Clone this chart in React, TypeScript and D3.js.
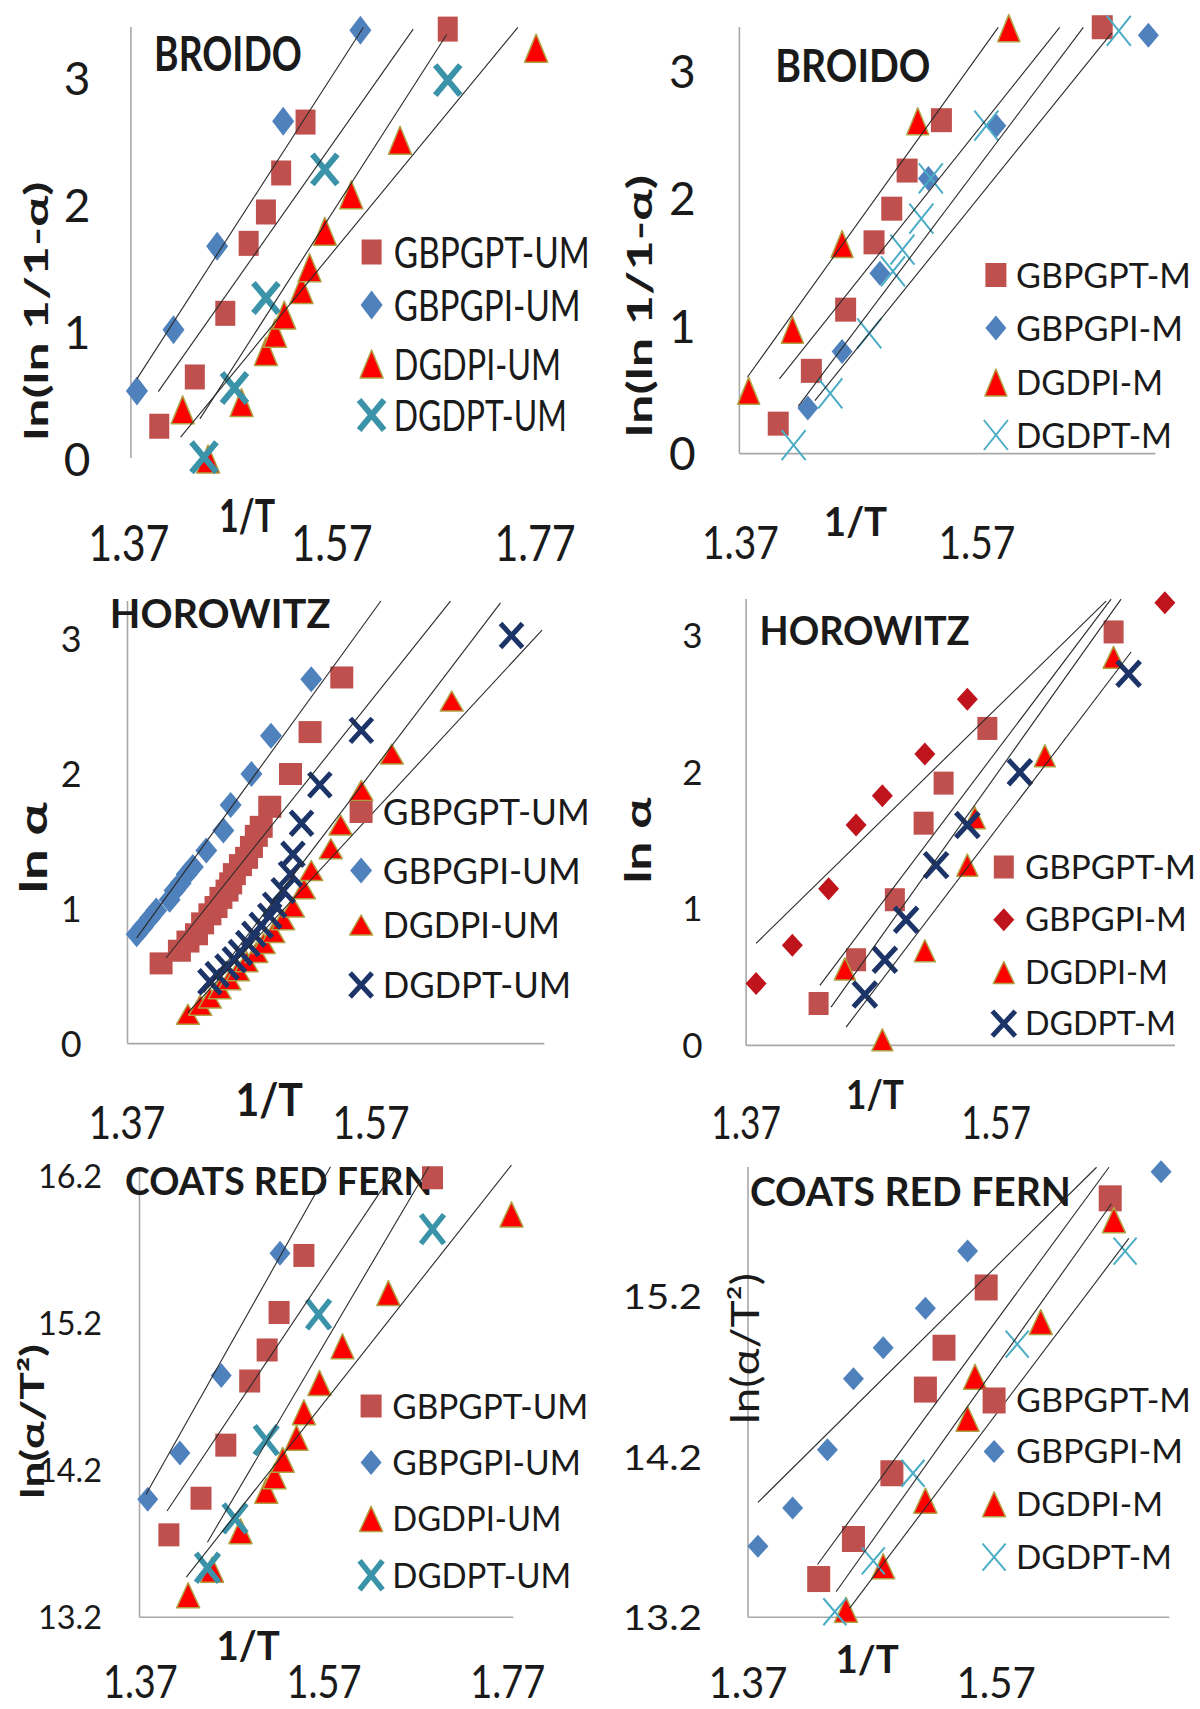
import React from 'react';
import * as d3 from 'd3';

type Pt = [number, number];

// ---------- tick labels & texts ----------
const xTicksWide = [1.37, 1.57, 1.77];
const xTicksNarrow = [1.37, 1.57];
const yTicksAlpha = [0, 1, 2, 3];
const yTicksCoatsUM = [13.2, 14.2, 15.2, 16.2];
const yTicksCoatsM = [13.2, 14.2, 15.2];

const panelTitles = ['BROIDO', 'BROIDO', 'HOROWITZ', 'HOROWITZ', 'COATS RED FERN', 'COATS RED FERN'];
const yAxisTitles = ['ln(ln 1/1-α)', 'ln(ln 1/1-α)', 'ln α', 'ln α', 'ln(α/T²)', 'ln(α/T²)'];
const xAxisTitle = '1/T';
const legendUM = ['GBPGPT-UM', 'GBPGPI-UM', 'DGDPI-UM', 'DGDPT-UM'];
const legendM = ['GBPGPT-M', 'GBPGPI-M', 'DGDPI-M', 'DGDPT-M'];

// ---------- BROIDO, UM ----------
const broidoUM_GBPGPT: Pt[] = [[1.400, 0.258], [1.435, 0.646], [1.465, 1.147], [1.488, 1.698], [1.505, 1.945], [1.520, 2.252], [1.544, 2.653], [1.684, 3.385]];
const broidoUM_GBPGPI: Pt[] = [[1.378, 0.536], [1.414, 1.018], [1.457, 1.675], [1.522, 2.659], [1.598, 3.376]];
const broidoUM_DGDPI: Pt[] = [[1.423, 0.387], [1.448, 0.0], [1.481, 0.444], [1.505, 0.846], [1.514, 0.990], [1.523, 1.133], [1.540, 1.334], [1.548, 1.506], [1.563, 1.793], [1.589, 2.080], [1.637, 2.510], [1.771, 3.235]];
const broidoUM_DGDPT: Pt[] = [[1.444, 0.014], [1.474, 0.559], [1.505, 1.268], [1.563, 2.280], [1.684, 2.983]];
const broidoUM_fits: Pt[][] = [[[1.378, 0.631], [1.601, 3.399]], [[1.399, 0.531], [1.650, 3.385]], [[1.440, 0.316], [1.683, 3.342]], [[1.421, 0.172], [1.753, 3.399]]];

// ---------- BROIDO, M ----------
const broidoM_GBPGPT: Pt[] = [[1.402, 0.235], [1.430, 0.649], [1.459, 1.129], [1.483, 1.657], [1.498, 1.921], [1.511, 2.220], [1.540, 2.615], [1.676, 3.344]];
const broidoM_GBPGPI: Pt[] = [[1.427, 0.358], [1.456, 0.800], [1.488, 1.415], [1.529, 2.158], [1.586, 2.572], [1.715, 3.281]];
const broidoM_DGDPI: Pt[] = [[1.377, 0.492], [1.414, 0.972], [1.456, 1.643], [1.520, 2.606], [1.597, 3.337]];
const broidoM_DGDPT: Pt[] = [[1.415, 0.066], [1.446, 0.472], [1.479, 0.943], [1.499, 1.429], [1.507, 1.600], [1.523, 1.843], [1.531, 2.158], [1.578, 2.572], [1.690, 3.315]];
const broidoM_fits: Pt[][] = [[[1.376, 0.601], [1.588, 3.343]], [[1.403, 0.586], [1.640, 3.343]], [[1.419, 0.372], [1.660, 3.343]], [[1.433, 0.415], [1.684, 3.300]]];

// ---------- HOROWITZ, UM ----------
const horoUM_GBPGPT: Pt[] = [[1.398, 0.595], [1.413, 0.689], [1.420, 0.757], [1.427, 0.811], [1.432, 0.892], [1.438, 0.959], [1.443, 1.013], [1.447, 1.081], [1.452, 1.135], [1.455, 1.189], [1.458, 1.257], [1.463, 1.324], [1.468, 1.378], [1.472, 1.459], [1.476, 1.541], [1.480, 1.608], [1.487, 1.757], [1.504, 2.000], [1.520, 2.311], [1.546, 2.716]];
const horoUM_GBPGPI: Pt[] = [[1.378, 0.811], [1.383, 0.865], [1.389, 0.932], [1.394, 0.987], [1.405, 1.068], [1.409, 1.135], [1.414, 1.189], [1.419, 1.257], [1.424, 1.311], [1.435, 1.432], [1.449, 1.581], [1.455, 1.770], [1.472, 2.000], [1.488, 2.283], [1.521, 2.703]];
const horoUM_DGDPI: Pt[] = [[1.420, 0.217], [1.430, 0.284], [1.438, 0.338], [1.446, 0.406], [1.454, 0.473], [1.461, 0.541], [1.468, 0.608], [1.476, 0.676], [1.482, 0.743], [1.490, 0.824], [1.498, 0.919], [1.506, 1.013], [1.515, 1.148], [1.521, 1.284], [1.537, 1.446], [1.545, 1.622], [1.562, 1.878], [1.587, 2.148], [1.636, 2.541]];
const horoUM_DGDPT: Pt[] = [[1.438, 0.459], [1.444, 0.513], [1.452, 0.568], [1.458, 0.622], [1.463, 0.676], [1.469, 0.743], [1.474, 0.811], [1.480, 0.878], [1.487, 0.946], [1.491, 1.027], [1.498, 1.135], [1.504, 1.257], [1.506, 1.405], [1.513, 1.635], [1.528, 1.919], [1.562, 2.324], [1.685, 3.027]];
const horoUM_fits: Pt[][] = [[[1.378, 0.784], [1.578, 3.283]], [[1.402, 0.635], [1.635, 3.283]], [[1.433, 0.378], [1.676, 3.270]], [[1.420, 0.230], [1.710, 3.067]]];

// ---------- HOROWITZ, M ----------
const horoM_GBPGPT: Pt[] = [[1.428, 0.311], [1.458, 0.631], [1.489, 1.070], [1.512, 1.630], [1.528, 1.923], [1.563, 2.323], [1.664, 3.029]];
const horoM_GBPGPI: Pt[] = [[1.378, 0.457], [1.407, 0.737], [1.436, 1.150], [1.458, 1.617], [1.479, 1.830], [1.513, 2.136], [1.547, 2.536], [1.705, 3.242]];
const horoM_DGDPI: Pt[] = [[1.449, 0.564], [1.479, 0.045], [1.513, 0.697], [1.547, 1.323], [1.553, 1.670], [1.609, 2.123], [1.664, 2.843]];
const horoM_DGDPT: Pt[] = [[1.465, 0.377], [1.481, 0.631], [1.498, 0.924], [1.522, 1.323], [1.547, 1.617], [1.589, 2.003], [1.676, 2.723]];
const horoM_fits: Pt[][] = [[[1.378, 0.751], [1.658, 3.255]], [[1.429, 0.444], [1.662, 3.269]], [[1.438, 0.284], [1.670, 3.269]], [[1.450, 0.138], [1.678, 2.882]]];

// ---------- COATS RED FERN, UM ----------
const coatsUM_GBPGPT: Pt[] = [[1.401, 13.760], [1.436, 14.009], [1.463, 14.370], [1.489, 14.806], [1.508, 15.017], [1.521, 15.272], [1.548, 15.660], [1.688, 16.188]];
const coatsUM_GBPGPI: Pt[] = [[1.378, 14.002], [1.413, 14.316], [1.458, 14.843], [1.522, 15.675]];
const coatsUM_DGDPI: Pt[] = [[1.422, 13.349], [1.448, 13.523], [1.479, 13.785], [1.507, 14.059], [1.516, 14.158], [1.525, 14.270], [1.540, 14.420], [1.548, 14.594], [1.565, 14.793], [1.590, 15.042], [1.640, 15.404], [1.774, 15.939]];
const coatsUM_DGDPT: Pt[] = [[1.443, 13.536], [1.473, 13.872], [1.507, 14.404], [1.564, 15.259], [1.688, 15.839]];
const coatsUM_fits: Pt[][] = [[[1.376, 14.034], [1.577, 16.263]], [[1.399, 13.922], [1.648, 16.250]], [[1.443, 13.710], [1.684, 16.263]], [[1.420, 13.473], [1.774, 16.275]]];

// ---------- COATS RED FERN, M ----------
const coatsM_GBPGPT: Pt[] = [[1.427, 13.438], [1.455, 13.688], [1.486, 14.098], [1.513, 14.620], [1.528, 14.881], [1.562, 15.257], [1.662, 15.813]];
const coatsM_GBPGPI: Pt[] = [[1.378, 13.643], [1.406, 13.882], [1.434, 14.245], [1.455, 14.688], [1.479, 14.881], [1.513, 15.127], [1.547, 15.484], [1.703, 15.979]];
const coatsM_DGDPI: Pt[] = [[1.449, 13.246], [1.479, 13.518], [1.513, 13.927], [1.547, 14.438], [1.553, 14.700], [1.606, 15.041], [1.665, 15.677]];
const coatsM_DGDPT: Pt[] = [[1.440, 13.234], [1.471, 13.552], [1.503, 14.098], [1.587, 14.904], [1.674, 15.484]];
const coatsM_fits: Pt[][] = [[[1.378, 13.916], [1.651, 16.007]], [[1.426, 13.529], [1.661, 16.007]], [[1.441, 13.359], [1.663, 15.779]], [[1.452, 13.257], [1.677, 15.563]]];

// ---------- styles ----------
const C_SQ = '#C0504D';
const C_DIA = '#4F81BD';
const C_DIA_DARK = '#C0141C';
const C_TRI = '#FF0000';
const C_TRI_EDGE = '#B0A040';
const C_TEAL = '#3A93A8';
const C_TEAL_THIN = '#4BACC6';
const C_NAVY = '#1C3468';
const AXIS = '#A8A8A8';
const FIT = '#2a2a2a';
const TEXT = '#1a1a1a';
const FONT = 'Lato, "Open Sans", "Liberation Sans", sans-serif';

type Kind = 'square' | 'diamond' | 'triangle' | 'x';
interface MSize { sq: [number, number]; dia: [number, number]; tri: [number, number]; x: [number, number, number]; }

interface Panel {
  series: Pt[][]; fits: Pt[][]; colors: string[]; legend: string[]; title: string; yTitle: string;
  xDomain: [number, number]; xRange: [number, number]; yDomain: [number, number]; yRange: [number, number];
  xTicks: number[]; yTicks: number[]; yFmt: (n: number) => string;
  yAxis: { x: number; y0: number; y1: number }; xAxis: { x0: number; x1: number; y: number } | null;
  yTick: { x: number; anchor: string; size: number; cap: number; w?: number };
  xTick: { base: number; size: number; w: number };
  titleBox: { x: number; base: number; size: number; w: number };
  xTitle: { x: number; base: number; size: number; w: number };
  yTitleBox: { cx: number; cy: number; size: number; len: number; bold: boolean };
  leg: { mx: number; tx: number; rows: number[]; size: number; cap: number; widths: number[] };
  ms: MSize;
}

const kinds: Kind[] = ['square', 'diamond', 'triangle', 'x'];
const fmtInt = d3.format('d');
const fmt1 = d3.format('.1f');

const panels: Panel[] = [
  {
    series: [broidoUM_GBPGPT, broidoUM_GBPGPI, broidoUM_DGDPI, broidoUM_DGDPT], fits: broidoUM_fits,
    colors: [C_SQ, C_DIA, C_TRI, C_TEAL], legend: legendUM, title: panelTitles[0], yTitle: yAxisTitles[0],
    xDomain: [1.37, 1.77], xRange: [128.8, 535.1], yDomain: [0, 3], yRange: [459, 78],
    xTicks: xTicksWide, yTicks: yTicksAlpha, yFmt: fmtInt,
    yAxis: { x: 130.9, y0: 27, y1: 458 }, xAxis: null,
    yTick: { x: 77.1, anchor: 'middle', size: 46, cap: 33 },
    xTick: { base: 561, size: 50, w: 81.3 },
    titleBox: { x: 154.1, base: 71, size: 48, w: 147.8 },
    xTitle: { x: 247.1, base: 531.5, size: 46, w: 56 },
    yTitleBox: { cx: 37, cy: 311, size: 32, len: 259, bold: true },
    leg: { mx: 371.6, tx: 393.8, rows: [252, 305, 364, 415], size: 43, cap: 31, widths: [196, 186.9, 167.3, 173.1] },
    ms: { sq: [20, 25], dia: [22, 29], tri: [23, 28], x: [25, 30, 6] },
  },
  {
    series: [broidoM_GBPGPT, broidoM_GBPGPI, broidoM_DGDPI, broidoM_DGDPT], fits: broidoM_fits,
    colors: [C_SQ, C_DIA, C_TRI, C_TEAL_THIN], legend: legendM, title: panelTitles[1], yTitle: yAxisTitles[1],
    xDomain: [1.37, 1.57], xRange: [740.4, 976.9], yDomain: [0, 3], yRange: [453.6, 71.1],
    xTicks: xTicksNarrow, yTicks: yTicksAlpha, yFmt: fmtInt,
    yAxis: { x: 739.4, y0: 27, y1: 453.6 }, xAxis: { x0: 739.4, x1: 1155.4, y: 453.6 },
    yTick: { x: 682.3, anchor: 'middle', size: 46, cap: 33 },
    xTick: { base: 559, size: 47, w: 77 },
    titleBox: { x: 775.3, base: 82, size: 46, w: 155.2 },
    xTitle: { x: 855.5, base: 535.5, size: 40, w: 63.3 },
    yTitleBox: { cx: 641.2, cy: 306, size: 34, len: 262, bold: true },
    leg: { mx: 995.9, tx: 1016, rows: [275, 328, 382.5, 435], size: 34, cap: 25, widths: [175, 167, 147, 156] },
    ms: { sq: [21, 24], dia: [21, 25], tri: [22, 27], x: [24, 30, 2] },
  },
  {
    series: [horoUM_GBPGPT, horoUM_GBPGPI, horoUM_DGDPI, horoUM_DGDPT], fits: horoUM_fits,
    colors: [C_SQ, C_DIA, C_TRI, C_NAVY], legend: legendUM, title: panelTitles[2], yTitle: yAxisTitles[2],
    xDomain: [1.37, 1.57], xRange: [126.9, 371.1], yDomain: [0, 3], yRange: [1043.6, 639.2],
    xTicks: xTicksNarrow, yTicks: yTicksAlpha, yFmt: fmtInt,
    yAxis: { x: 127.5, y0: 601, y1: 1043.6 }, xAxis: { x0: 127.5, x1: 544.3, y: 1043.6 },
    yTick: { x: 71.2, anchor: 'middle', size: 36, cap: 26 },
    xTick: { base: 1139, size: 46, w: 77 },
    titleBox: { x: 109.8, base: 628, size: 40, w: 220.7 },
    xTitle: { x: 269.2, base: 1116.4, size: 46, w: 67.6 },
    yTitleBox: { cx: 34.8, cy: 848, size: 38, len: 91, bold: true },
    leg: { mx: 361.1, tx: 382.7, rows: [812, 870.5, 925, 985], size: 37, cap: 26.5, widths: [207, 198, 177, 188.5] },
    ms: { sq: [23, 22], dia: [22, 26], tri: [23, 20], x: [22, 24, 5] },
  },
  {
    series: [horoM_GBPGPT, horoM_GBPGPI, horoM_DGDPI, horoM_DGDPT], fits: horoM_fits,
    colors: [C_SQ, C_DIA_DARK, C_TRI, C_NAVY], legend: legendM, title: panelTitles[3], yTitle: yAxisTitles[3],
    xDomain: [1.37, 1.57], xRange: [746.1, 996.1], yDomain: [0, 3], yRange: [1046, 635.9],
    xTicks: xTicksNarrow, yTicks: yTicksAlpha, yFmt: fmtInt,
    yAxis: { x: 746.1, y0: 599, y1: 1045.4 }, xAxis: { x0: 746.1, x1: 1175, y: 1045.4 },
    yTick: { x: 692.3, anchor: 'middle', size: 35, cap: 24 },
    xTick: { base: 1139, size: 46, w: 69.7 },
    titleBox: { x: 759.5, base: 645, size: 40, w: 210.1 },
    xTitle: { x: 875, base: 1109, size: 40, w: 58 },
    yTitleBox: { cx: 639.6, cy: 840.5, size: 36, len: 86, bold: true },
    leg: { mx: 1003.8, tx: 1024.9, rows: [867, 919.7, 972.5, 1023.6], size: 33, cap: 23.5, widths: [171, 162, 143, 151] },
    ms: { sq: [20, 23], dia: [21, 23], tri: [21, 22], x: [23, 25, 5] },
  },
  {
    series: [coatsUM_GBPGPT, coatsUM_GBPGPI, coatsUM_DGDPI, coatsUM_DGDPT], fits: coatsUM_fits,
    colors: [C_SQ, C_DIA, C_TRI, C_TEAL], legend: legendUM, title: panelTitles[4], yTitle: yAxisTitles[4],
    xDomain: [1.37, 1.77], xRange: [140.4, 507.8], yDomain: [13.2, 16.2], yRange: [1617.2, 1176],
    xTicks: xTicksWide, yTicks: yTicksCoatsUM, yFmt: fmt1,
    yAxis: { x: 139.5, y0: 1171, y1: 1617.2 }, xAxis: { x0: 139.5, x1: 513.4, y: 1617.2 },
    yTick: { x: 102, anchor: 'end', size: 33, cap: 23.5, w: 64 },
    xTick: { base: 1698, size: 46, w: 75 },
    titleBox: { x: 125, base: 1194.6, size: 38, w: 307.2 },
    xTitle: { x: 248.1, base: 1660, size: 40, w: 63.3 },
    yTitleBox: { cx: 32.7, cy: 1421.5, size: 33, len: 155, bold: true },
    leg: { mx: 371.1, tx: 392.3, rows: [1406, 1462.4, 1518.9, 1575.3], size: 35, cap: 25, widths: [196, 188.5, 169.2, 178.8] },
    ms: { sq: [21, 23], dia: [21, 25], tri: [23, 25], x: [23, 29, 5.5] },
  },
  {
    series: [coatsM_GBPGPT, coatsM_GBPGPI, coatsM_DGDPI, coatsM_DGDPT], fits: coatsM_fits,
    colors: [C_SQ, C_DIA, C_TRI, C_TEAL_THIN], legend: legendM, title: panelTitles[5], yTitle: yAxisTitles[5],
    xDomain: [1.37, 1.57], xRange: [748, 996.1], yDomain: [13.2, 15.2], yRange: [1617.2, 1296.6],
    xTicks: xTicksNarrow, yTicks: yTicksCoatsM, yFmt: fmt1,
    yAxis: { x: 748, y0: 1167, y1: 1617.2 }, xAxis: { x0: 748, x1: 1169.3, y: 1617.2 },
    yTick: { x: 701.9, anchor: 'end', size: 35, cap: 25.5, w: 79.2 },
    xTick: { base: 1698, size: 42, w: 79.2 },
    titleBox: { x: 749.9, base: 1205.6, size: 40, w: 321 },
    xTitle: { x: 867.1, base: 1673, size: 38, w: 63.3 },
    yTitleBox: { cx: 746.9, cy: 1348.5, size: 38, len: 151, bold: false },
    leg: { mx: 994.1, tx: 1016, rows: [1400.5, 1451.5, 1504.3, 1557.1], size: 33, cap: 23.5, widths: [175, 167, 147, 156] },
    ms: { sq: [23, 26], dia: [21, 23], tri: [23, 25], x: [23, 27, 2] },
  },
];

function Marker({ kind, x, y, color, ms }: { kind: Kind; x: number; y: number; color: string; ms: MSize }) {
  if (kind === 'square') {
    const [w, h] = ms.sq;
    return <rect x={x - w / 2} y={y - h / 2} width={w} height={h} fill={color} />;
  }
  if (kind === 'diamond') {
    const [w, h] = ms.dia;
    return <path d={`M${x},${y - h / 2}L${x + w / 2},${y}L${x},${y + h / 2}L${x - w / 2},${y}Z`} fill={color} />;
  }
  if (kind === 'triangle') {
    const [w, h] = ms.tri;
    return <path d={`M${x},${y - h / 2}L${x + w / 2},${y + h / 2}L${x - w / 2},${y + h / 2}Z`} fill={color} stroke={C_TRI_EDGE} strokeWidth={1.5} strokeLinejoin="round" />;
  }
  const [w, h, sw] = ms.x;
  return <path d={`M${x - w / 2},${y - h / 2}L${x + w / 2},${y + h / 2}M${x + w / 2},${y - h / 2}L${x - w / 2},${y + h / 2}`} stroke={color} strokeWidth={sw} fill="none" />;
}

function Txt(props: { x: number; y: number; size: number; w?: number; anchor?: string; bold?: boolean; rotate?: boolean; children: React.ReactNode }) {
  const { x, y, size, w, anchor = 'start', bold = false, rotate = false, children } = props;
  return (
    <text x={x} y={y} fontSize={size} fontFamily={FONT} fontWeight={bold ? 700 : 400} textAnchor={anchor as any} fill={TEXT}
      textLength={w} lengthAdjust={w ? 'spacingAndGlyphs' : undefined}
      transform={rotate ? `rotate(-90 ${x} ${y})` : undefined}>{children}</text>
  );
}

function PanelView({ p }: { p: Panel }) {
  const x = d3.scaleLinear().domain(p.xDomain).range(p.xRange);
  const y = d3.scaleLinear().domain(p.yDomain).range(p.yRange);
  const line = d3.line<Pt>().x(d => x(d[0])).y(d => y(d[1]));
  const fmtX = d3.format('.2f');
  return (
    <g>
      <line x1={p.yAxis.x} x2={p.yAxis.x} y1={p.yAxis.y0} y2={p.yAxis.y1} stroke={AXIS} strokeWidth={1.6} />
      {p.xAxis && <line x1={p.xAxis.x0} x2={p.xAxis.x1} y1={p.xAxis.y} y2={p.xAxis.y} stroke={AXIS} strokeWidth={1.6} />}
      {p.yTicks.map(t => (
        <Txt key={'yt' + t} x={p.yTick.x} y={y(t) + p.yTick.cap / 2} size={p.yTick.size} anchor={p.yTick.anchor} w={p.yTick.w}>{p.yFmt(t)}</Txt>
      ))}
      {p.xTicks.map(t => (
        <Txt key={'xt' + t} x={x(t)} y={p.xTick.base} size={p.xTick.size} anchor="middle" w={p.xTick.w}>{fmtX(t)}</Txt>
      ))}
      <Txt x={p.titleBox.x} y={p.titleBox.base} size={p.titleBox.size} w={p.titleBox.w} bold>{p.title}</Txt>
      <Txt x={p.xTitle.x} y={p.xTitle.base} size={p.xTitle.size} w={p.xTitle.w} anchor="middle" bold>{xAxisTitle}</Txt>
      {p.series.map((s, si) => (
        <g key={'s' + si}>
          {s.map((d, i) => <Marker key={i} kind={kinds[si]} x={x(d[0])} y={y(d[1])} color={p.colors[si]} ms={p.ms} />)}
        </g>
      ))}
      {p.fits.map((f, fi) => (
        <path key={'f' + fi} d={line(f) || ''} stroke={FIT} strokeWidth={1.1} fill="none" />
      ))}
      {p.legend.map((name, li) => (
        <g key={'l' + li}>
          <Marker kind={kinds[li]} x={p.leg.mx} y={p.leg.rows[li]} color={p.colors[li]} ms={p.ms} />
          <Txt x={p.leg.tx} y={p.leg.rows[li] + p.leg.cap / 2} size={p.leg.size} w={p.leg.widths[li]}>{name}</Txt>
        </g>
      ))}
      <Txt x={p.yTitleBox.cx + p.yTitleBox.size * 0.33} y={p.yTitleBox.cy} size={p.yTitleBox.size} w={p.yTitleBox.len} anchor="middle" bold={p.yTitleBox.bold} rotate>{p.yTitle}</Txt>
    </g>
  );
}

export default function App() {
  return (
    <div style={{ position: 'absolute', left: 0, top: 0 }}>
      <svg width={1200} height={1709} viewBox="0 0 1200 1709" style={{ display: 'block', background: '#fff' }}>
        <rect x={0} y={0} width={1200} height={1709} fill="#fff" />
        {panels.map((p, i) => <PanelView key={i} p={p} />)}
      </svg>
    </div>
  );
}
